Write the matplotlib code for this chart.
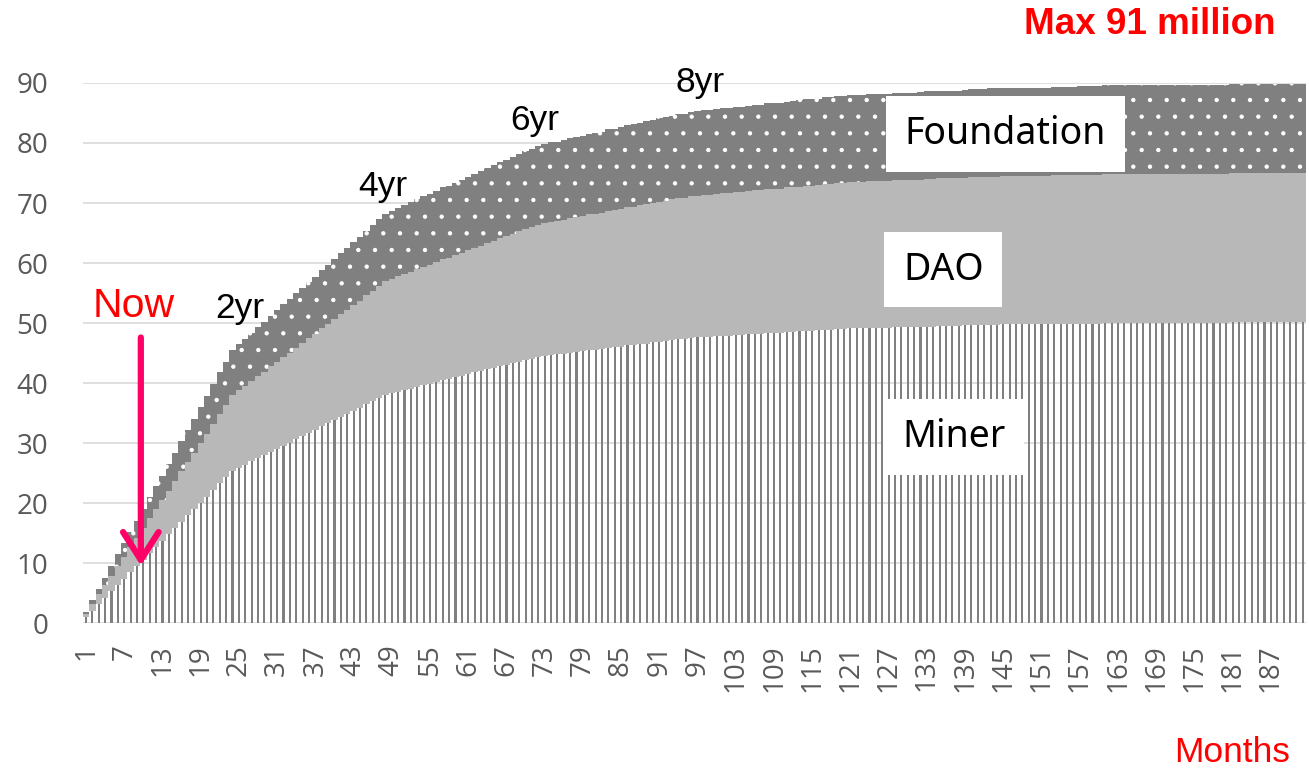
import matplotlib
matplotlib.use("Agg")
import matplotlib.pyplot as plt
import numpy as np

# ---------------- data (millions) ----------------
months = list(range(1, 193))

miner = [
    1.1, 2.1, 3.2, 4.2, 5.3, 6.4, 7.4, 8.5, 9.5, 10.6, 11.7, 12.7,
    13.7, 14.8, 15.8, 16.9, 18.0, 19.0, 20.1, 21.1, 22.2, 23.3, 24.3, 25.4,
    25.9, 26.4, 27.0, 27.5, 28.0, 28.6, 29.1, 29.6, 30.1, 30.7, 31.2, 31.7,
    32.2, 32.8, 33.3, 33.8, 34.4, 34.9, 35.4, 35.9, 36.5, 37.0, 37.6, 38.1,
    38.3, 38.6, 38.8, 39.1, 39.4, 39.7, 39.9, 40.2, 40.5, 40.7, 41.0, 41.2,
    41.5, 41.8, 42.0, 42.3, 42.6, 42.9, 43.1, 43.4, 43.6, 43.9, 44.1, 44.4,
    44.5, 44.7, 44.8, 44.9, 45.1, 45.2, 45.3, 45.5, 45.6, 45.7, 45.9, 46.0,
    46.1, 46.3, 46.4, 46.5, 46.6, 46.8, 46.9, 47.0, 47.2, 47.3, 47.4, 47.5,
    47.6, 47.7, 47.7, 47.8, 47.9, 47.9, 48.0, 48.0, 48.1, 48.2, 48.2, 48.3,
    48.4, 48.4, 48.5, 48.5, 48.6, 48.7, 48.7, 48.8, 48.9, 48.9, 49.0, 49.0,
    49.1, 49.1, 49.1, 49.2, 49.2, 49.2, 49.2, 49.3, 49.3, 49.3, 49.3, 49.4,
    49.4, 49.4, 49.5, 49.5, 49.5, 49.5, 49.6, 49.6, 49.6, 49.6, 49.7, 49.7,
    49.8, 49.8, 49.8, 49.8, 49.8, 49.8, 49.8, 49.8, 49.9, 49.9, 49.9, 49.9,
    49.9, 49.9, 49.9, 49.9, 50.0, 50.0, 50.0, 50.0, 50.0, 50.0, 50.0, 50.0,
    50.0, 50.0, 50.0, 50.0, 50.0, 50.0, 50.0, 50.0, 50.0, 50.0, 50.0, 50.0,
    50.1, 50.1, 50.1, 50.1, 50.1, 50.1, 50.1, 50.1, 50.1, 50.1, 50.1, 50.1,
]

dao = [
    0.5, 1.1, 1.6, 2.1, 2.6, 3.2, 3.7, 4.2, 4.7, 5.3, 5.8, 6.3,
    6.8, 7.3, 7.9, 8.4, 8.9, 9.4, 10.0, 10.5, 11.0, 11.6, 12.1, 12.6,
    12.9, 13.1, 13.4, 13.7, 13.9, 14.2, 14.4, 14.7, 15.0, 15.2, 15.5, 15.8,
    16.0, 16.3, 16.5, 16.8, 17.1, 17.3, 17.6, 17.8, 18.1, 18.4, 18.6, 18.9,
    19.0, 19.2, 19.3, 19.4, 19.6, 19.7, 19.8, 19.9, 20.1, 20.2, 20.3, 20.5,
    20.6, 20.7, 20.9, 21.0, 21.1, 21.3, 21.4, 21.5, 21.7, 21.8, 21.9, 22.0,
    22.1, 22.2, 22.2, 22.3, 22.4, 22.4, 22.5, 22.6, 22.6, 22.7, 22.8, 22.8,
    22.9, 23.0, 23.0, 23.1, 23.2, 23.2, 23.3, 23.4, 23.4, 23.5, 23.5, 23.6,
    23.6, 23.7, 23.7, 23.7, 23.8, 23.8, 23.8, 23.8, 23.9, 23.9, 23.9, 24.0,
    24.0, 24.0, 24.1, 24.1, 24.1, 24.2, 24.2, 24.2, 24.3, 24.3, 24.3, 24.3,
    24.4, 24.4, 24.4, 24.4, 24.4, 24.5, 24.5, 24.5, 24.5, 24.5, 24.5, 24.5,
    24.6, 24.6, 24.6, 24.6, 24.6, 24.6, 24.6, 24.7, 24.7, 24.7, 24.7, 24.7,
    24.7, 24.7, 24.7, 24.7, 24.7, 24.7, 24.7, 24.7, 24.7, 24.7, 24.7, 24.7,
    24.8, 24.8, 24.8, 24.8, 24.8, 24.8, 24.8, 24.8, 24.8, 24.8, 24.8, 24.8,
    24.8, 24.8, 24.8, 24.8, 24.8, 24.8, 24.8, 24.8, 24.8, 24.8, 24.8, 24.8,
    24.9, 24.9, 24.9, 24.9, 24.9, 24.9, 24.9, 24.9, 24.9, 24.9, 24.9, 24.9,
]

foundation = [
    0.3, 0.6, 0.9, 1.3, 1.6, 1.9, 2.2, 2.5, 2.8, 3.1, 3.5, 3.8,
    4.1, 4.4, 4.7, 5.0, 5.3, 5.6, 5.9, 6.3, 6.6, 6.9, 7.2, 7.5,
    7.7, 7.8, 8.0, 8.1, 8.3, 8.4, 8.6, 8.8, 8.9, 9.1, 9.2, 9.4,
    9.5, 9.7, 9.8, 10.0, 10.2, 10.3, 10.5, 10.6, 10.8, 10.9, 11.1, 11.2,
    11.3, 11.4, 11.5, 11.6, 11.6, 11.7, 11.8, 11.9, 12.0, 12.0, 12.1, 12.2,
    12.3, 12.4, 12.4, 12.5, 12.6, 12.7, 12.7, 12.8, 12.9, 13.0, 13.0, 13.1,
    13.2, 13.2, 13.2, 13.3, 13.3, 13.4, 13.4, 13.4, 13.5, 13.5, 13.6, 13.6,
    13.6, 13.7, 13.7, 13.7, 13.8, 13.8, 13.9, 13.9, 13.9, 14.0, 14.0, 14.1,
    14.1, 14.1, 14.1, 14.1, 14.2, 14.2, 14.2, 14.2, 14.2, 14.2, 14.3, 14.3,
    14.3, 14.3, 14.3, 14.4, 14.4, 14.4, 14.4, 14.4, 14.5, 14.5, 14.5, 14.5,
    14.5, 14.5, 14.5, 14.5, 14.5, 14.5, 14.5, 14.5, 14.6, 14.6, 14.6, 14.6,
    14.6, 14.6, 14.6, 14.6, 14.6, 14.6, 14.7, 14.7, 14.7, 14.7, 14.7, 14.7,
    14.7, 14.7, 14.7, 14.7, 14.7, 14.7, 14.7, 14.7, 14.7, 14.7, 14.7, 14.7,
    14.8, 14.8, 14.8, 14.8, 14.8, 14.8, 14.8, 14.8, 14.8, 14.8, 14.8, 14.8,
    14.8, 14.8, 14.8, 14.8, 14.8, 14.8, 14.8, 14.8, 14.8, 14.8, 14.8, 14.8,
    14.8, 14.8, 14.8, 14.8, 14.8, 14.8, 14.8, 14.8, 14.8, 14.8, 14.8, 14.8,
]

tick_months = [1, 7, 13, 19, 25, 31, 37, 43, 49, 55, 61, 67, 73, 79, 85, 91,
               97, 103, 109, 115, 121, 127, 133, 139, 145, 151, 157, 163,
               169, 175, 181, 187]
y_ticks = [0, 10, 20, 30, 40, 50, 60, 70, 80, 90]
series_names = ["Miner", "DAO", "Foundation"]
year_labels = ["2yr", "4yr", "6yr", "8yr"]

# ---------------- figure ----------------
plt.rcParams["hatch.linewidth"] = 0.7
ARIAL = ["Liberation Sans", "DejaVu Sans"]
LABEL_FONT = ["Noto Sans", "DejaVu Sans"]
TICK_FONT = ["Open Sans", "DejaVu Sans"]
GRAY_TXT = "#595959"

fig = plt.figure(figsize=(13.09, 7.73), dpi=100)
ax = fig.add_axes([0.0633, 0.1937, 0.9343, 0.699])

miner_arr = np.array(miner)
dao_arr = np.array(dao)
ax.bar(months, miner, width=0.33, color="#808080", linewidth=0,
       antialiased=False, zorder=2)
ax.bar(months, dao, width=1.0, bottom=miner_arr, color="#b8b8b8",
       linewidth=0, antialiased=False, zorder=2)
ax.bar(months, foundation, width=1.0, bottom=miner_arr + dao_arr,
       facecolor="#808080", edgecolor="white", hatch=".", linewidth=0,
       antialiased=False, zorder=2)

ax.set_xlim(0.5, 192.5)
ax.set_ylim(0, 90)
ax.set_axisbelow(True)
ax.yaxis.grid(True, color="#d9d9d9", linewidth=1.2)
for s in ax.spines.values():
    s.set_visible(False)

ax.set_xticks(tick_months)
ax.set_xticklabels([str(m) for m in tick_months], rotation=90,
                   fontsize=20, color=GRAY_TXT, family=TICK_FONT)
ax.set_yticks(y_ticks)
ax.set_yticklabels([str(v) for v in y_ticks], fontsize=20, color=GRAY_TXT,
                   family=TICK_FONT)
ax.tick_params(axis="x", length=0, pad=15)
ax.tick_params(axis="y", length=0, pad=25)

# series labels in white boxes
box = dict(facecolor="white", edgecolor="none", boxstyle="square,pad=0.5")
ax.text(145.3, 81.5, series_names[2], fontsize=27, family=LABEL_FONT,
        ha="center", va="center", bbox=box, zorder=5)
ax.text(135.6, 58.9, series_names[1], fontsize=27, family=LABEL_FONT,
        ha="center", va="center", bbox=box, zorder=5)
ax.text(137.2, 31.0, series_names[0], fontsize=27, family=LABEL_FONT,
        ha="center", va="center", bbox=box, zorder=5)

# year markers
for lbl, xm, yv in zip(year_labels, [25.2, 47.6, 71.5, 97.4],
                       [52.5, 72.8, 83.8, 90.0]):
    ax.text(xm, yv, lbl, fontsize=25.5, family=ARIAL, color="black",
            ha="center", va="center", zorder=5, clip_on=False)

# "Now" marker
ax.text(8.5, 52.8, "Now", fontsize=29.5, family=ARIAL, color="#ff0000",
        ha="center", va="center", zorder=5)
ax.annotate("", xy=(9.6, 9.6), xytext=(9.6, 47.6),
            arrowprops=dict(arrowstyle="->,head_length=0.5,head_width=0.32",
                            color="#ff0066", lw=4.5, mutation_scale=40,
                            shrinkA=0, shrinkB=0),
            zorder=6)

fig.text(1276 / 1309, 1 - 24 / 773, "Max 91 million", fontsize=26.5,
         fontweight="bold", color="#ff0000", family=ARIAL,
         ha="right", va="center")
fig.text(1290 / 1309, 1 - 753 / 773, "Months", fontsize=25.5,
         color="#ff0000", family=ARIAL, ha="right", va="center")

fig.savefig("out.png", dpi=100, facecolor="white")
